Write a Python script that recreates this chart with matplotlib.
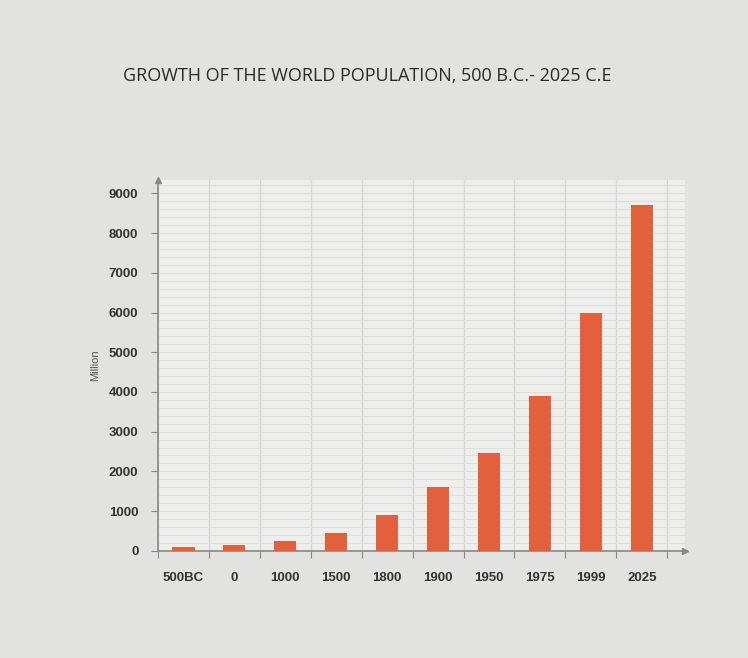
import matplotlib.pyplot as plt
import numpy as np

# world population (million)
years = ["500BC", "0", "1000", "1500", "1800", "1900", "1950", "1975", "1999", "2025"]
population = [100, 150, 250, 450, 900, 1600, 2450, 3900, 6000, 8700]

bar_color = "#e2603b"

fig = plt.figure(figsize=(7.48, 6.58), dpi=100, facecolor="#e2e2e0")
ax = fig.add_axes([0.211, 0.163, 0.705, 0.563])
ax.set_facecolor("#eeeeec")

x = np.arange(len(years))
ax.bar(x, population, width=0.44, color=bar_color, zorder=3)

ax.set_xlim(-0.5, 9.85)
ax.set_ylim(0, 9330)

# grid: vertical lines between categories, fine horizontal lines
ax.set_xticks(np.arange(-0.5, 10.5, 1), minor=False)
ax.set_xticklabels([])
ax.set_xticks(x, minor=True)
ax.set_xticklabels(years, minor=True)
ax.tick_params(axis="x", which="minor", length=0, pad=15)
ax.tick_params(axis="x", which="major", length=5, color="#888888")
ax.grid(axis="x", which="major", color="#d6d6d2", lw=0.9, zorder=0)

ax.set_yticks(np.arange(0, 10000, 1000))
ax.set_yticks(np.arange(0, 9400, 200), minor=True)
ax.tick_params(axis="y", which="major", length=5, color="#888888", pad=9)
ax.tick_params(axis="y", which="minor", length=0)
ax.grid(axis="y", which="both", color="#dcdcd8", lw=0.6, zorder=0)

for lab in ax.get_xticklabels(minor=True) + ax.get_yticklabels():
    lab.set_fontfamily("Liberation Sans")
    lab.set_fontweight("bold")
    lab.set_fontsize(9.5)
    lab.set_color("#333333")

for side in ["top", "right"]:
    ax.spines[side].set_visible(False)
for side in ["left", "bottom"]:
    ax.spines[side].set_color("#888888")
    ax.spines[side].set_linewidth(1.2)

# axis arrows
ax.plot(1, 0, ">", color="#888888", ms=5, transform=ax.transAxes, clip_on=False)
ax.plot(0, 1, "^", color="#888888", ms=5, transform=ax.transAxes, clip_on=False)

ax.set_ylabel("Million", fontsize=8, color="#555555", labelpad=6,
              fontfamily="Liberation Sans")

fig.text(0.491, 0.885, "GROWTH OF THE WORLD POPULATION, 500 B.C.- 2025 C.E",
         ha="center", va="center", fontsize=13, color="#2a2a2a",
         fontfamily="Open Sans")

plt.savefig("out.png", dpi=100, facecolor=fig.get_facecolor())
